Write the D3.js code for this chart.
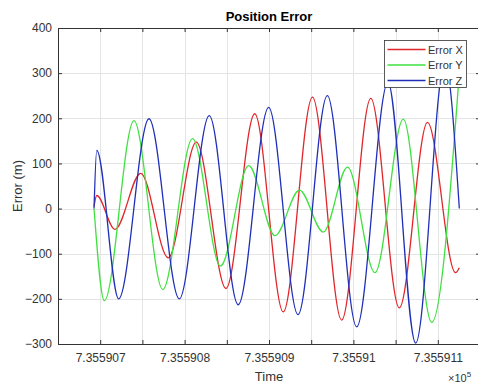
<!DOCTYPE html>
<html>
<head>
<meta charset="utf-8">
<script src="https://cdn.jsdelivr.net/npm/d3@7"></script>
<style>
	body{margin:0;background:#fff;}
	text{font-family:"Liberation Sans",Arial,Helvetica,sans-serif;}
</style>
</head>
<body>
<div id="chart"></div>
<script>
// series (time is a datenum, axis shows it x10^5)
var seriesNames  = ["Error X","Error Y","Error Z"];
var seriesColors = ["#e0262a","#3fe03f","#1f2fb8"];

var timeX = [735590.6927,735590.6959,735590.7175,735590.7480,735590.7807,735590.8139,735590.8491,735590.8831,
			 735590.9169,735590.9515,735590.9861,735591.0206,735591.0544,735591.0878,735591.1210,735591.1255];
var errX  = [5,29,-46,78,-109,147,-177,210,-229,247,-247,244,-220,191,-142,-131];

var timeY = [735590.6927,735590.7049,735590.7400,735590.7741,735590.8094,735590.8425,735590.8760,735590.9071,
			 735590.9361,735590.9643,735590.9930,735591.0256,735591.0591,735591.0928,735591.1251];
var errY  = [0,-204,195,-179,155,-127,95,-60,41,-52,92,-142,198,-252,290];

var timeZ = [735590.6927,735590.6959,735590.7219,735590.7578,735590.7937,735590.8292,735590.8635,735590.8996,
			 735590.9344,735590.9691,735591.0039,735591.0410,735591.0738,735591.1085,735591.1255];
var errZ  = [0,129,-200,199,-200,206,-213,224,-235,250,-262,280,-298,325,0];

var xTicks      = [735590.65,735590.70,735590.75,735590.80,735590.85,735590.90,735590.95,735591.00,735591.05,735591.10,735591.15];
var xTickLabels = ["","7.355907","","7.355908","","7.355909","","7.35591","","7.355911",""];
var yTicks      = [-300,-200,-100,0,100,200,300,400];

var margin = {top:28, left:58, right:-2, bottom:41};
var width  = 478, height = 385;
var plotW  = width - margin.left - margin.right;
var plotH  = height - margin.top - margin.bottom;

var x = d3.scaleLinear().domain([xTicks[0], xTicks[xTicks.length-1]]).range([0, plotW]);
var y = d3.scaleLinear().domain([-300, 400]).range([plotH, 0]);

var svg = d3.select("#chart").append("svg")
			.attr("width", width)
			.attr("height", height)
			.style("display","block");

svg.append("rect").attr("width",width).attr("height",height).attr("fill","#fff");

var g = svg.append("g").attr("transform","translate("+margin.left+","+margin.top+")");

g.append("clipPath").attr("id","plotclip")
	.append("rect").attr("width",plotW).attr("height",plotH);

// grid
g.append("g").selectAll("line.gx")
	.data(xTicks)
	.enter()
	.append("line")
	.attr("x1",function(d){return Math.round(x(d))+0.5;})
	.attr("x2",function(d){return Math.round(x(d))+0.5;})
	.attr("y1",0).attr("y2",plotH)
	.attr("stroke","#e4e4e4");

g.append("g").selectAll("line.gy")
	.data(yTicks)
	.enter()
	.append("line")
	.attr("y1",function(d){return Math.round(y(d))+0.5;})
	.attr("y2",function(d){return Math.round(y(d))+0.5;})
	.attr("x1",0).attr("x2",plotW)
	.attr("stroke","#e4e4e4");

// lines
var series = [
	{t:timeX, v:errX},
	{t:timeY, v:errY},
	{t:timeZ, v:errZ}
];

var line = d3.line()
			.x(function(d){return x(d[0]);})
			.y(function(d){return y(d[1]);})
			.curve(d3.curveMonotoneX);

g.append("g").attr("clip-path","url(#plotclip)")
	.selectAll("path")
	.data(series)
	.enter()
	.append("path")
	.attr("d",function(s){return line(s.t.map(function(t,i){return [t,s.v[i]];}));})
	.attr("fill","none")
	.attr("stroke",function(s,i){return seriesColors[i];})
	.attr("stroke-width",1.3);

// axes, ticks pointing inward like matlab
var axisColor = "#333";

var xAxis = g.append("g")
			.attr("transform","translate(0,"+plotH+")")
			.call(d3.axisBottom(x).tickValues(xTicks).tickSizeInner(-4).tickSizeOuter(0).tickPadding(9)
				.tickFormat(function(d,i){return xTickLabels[i];}));

var xTop = g.append("g")
			.call(d3.axisTop(x).tickValues(xTicks).tickSizeInner(-4).tickSizeOuter(0).tickFormat(""));

var yAxis = g.append("g")
			.call(d3.axisLeft(y).tickValues(yTicks).tickSizeInner(-4).tickSizeOuter(0).tickPadding(6));

var yRight = g.append("g")
			.attr("transform","translate("+plotW+",0)")
			.call(d3.axisRight(y).tickValues(yTicks).tickSizeInner(-4).tickSizeOuter(0).tickFormat(""));

[xAxis,xTop,yAxis,yRight].forEach(function(a){
	a.selectAll("path,line").attr("stroke",axisColor);
	a.selectAll("text").attr("fill","#333").style("font-size","12px")
		.style("font-family","'Liberation Sans',Arial,sans-serif");
});

// title & labels
svg.append("text")
	.attr("x",margin.left+plotW/2)
	.attr("y",21)
	.attr("text-anchor","middle")
	.style("font-size","13px")
	.style("font-weight","bold")
	.attr("fill","#000")
	.text("Position Error");

svg.append("text")
	.attr("x",margin.left+plotW/2)
	.attr("y",381)
	.attr("text-anchor","middle")
	.style("font-size","13px")
	.attr("fill","#333")
	.text("Time");

svg.append("text")
	.attr("transform","translate(22,"+(margin.top+plotH/2)+") rotate(-90)")
	.attr("text-anchor","middle")
	.style("font-size","13px")
	.attr("fill","#333")
	.text("Error (m)");

var expo = svg.append("text")
			.attr("x",448)
			.attr("y",382)
			.style("font-size","11px")
			.attr("fill","#333");
expo.append("tspan").text("\u00d710");
expo.append("tspan").attr("dy",-5).style("font-size","8px").text("5");

// legend
var legend = svg.append("g").attr("transform","translate(384.5,40.5)");

legend.append("rect")
	.attr("width",82)
	.attr("height",47)
	.attr("fill","#fff")
	.attr("stroke","#333")
	.attr("stroke-width",0.8);

var rows = legend.selectAll("g.row")
			.data(seriesNames)
			.enter()
			.append("g")
			.attr("transform",function(d,i){return "translate(0,"+(9+i*15.5)+")";});

rows.append("line")
	.attr("x1",3).attr("x2",41)
	.attr("stroke",function(d,i){return seriesColors[i];})
	.attr("stroke-width",1.3);

rows.append("text")
	.attr("x",43.5)
	.attr("y",4)
	.style("font-size","11px")
	.attr("fill","#333")
	.text(function(d){return d;});
</script>
</body>
</html>
